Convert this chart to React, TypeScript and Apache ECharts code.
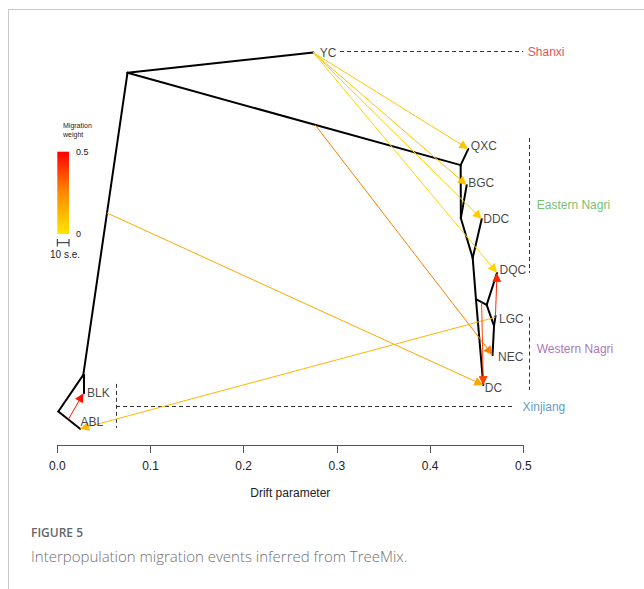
import React, { useEffect, useRef } from "react";
import * as echarts from "echarts";

// ---- Tree topology (TreeMix maximum-likelihood graph) ----
// Node positions: drift parameter on x, vertical layout position on y (0 = bottom, 1 = top)
const nodeIds = ["root", "ABL", "n1", "BLK", "n2", "YC", "nA", "QXC", "nB", "BGC", "nC", "DDC", "nD", "DC", "nE", "DQC", "nF", "LGC", "NEC"];
const nodeDrift = [0.0011, 0.0244, 0.0279, 0.0281, 0.0753, 0.2747, 0.4328, 0.441, 0.433, 0.4393, 0.4457, 0.4554, 0.4492, 0.4571, 0.4607, 0.4718, 0.4686, 0.4702, 0.467];
const nodeHeight = [0.0827, 0.04, 0.173, 0.128, 0.919, 0.969, 0.691, 0.731, 0.56, 0.642, 0.462, 0.558, 0.36, 0.148, 0.346, 0.425, 0.294, 0.319, 0.222];

const edgeParent = ["root", "root", "n1", "n1", "n2", "n2", "nA", "nA", "nB", "nB", "nC", "nC", "nD", "nD", "nE", "nE", "nF", "nF"];
const edgeChild = ["ABL", "n1", "BLK", "n2", "YC", "nA", "QXC", "nB", "BGC", "nC", "DDC", "nD", "DC", "nE", "DQC", "nF", "LGC", "NEC"];

// ---- Migration events: source = point on a branch (parent, child, fraction), target = population ----
const migrationSrcParent = ["n2", "n2", "n2", "n2", "n2", "n1", "nF", "root", "nD", "nF"];
const migrationSrcChild = ["YC", "YC", "YC", "YC", "nA", "n2", "LGC", "ABL", "nE", "LGC"];
const migrationSrcAt = [1, 1, 1, 1, 0.563, 0.536, 0.85, 0.46, 0.53, 0.95];
const migrationTarget = ["QXC", "BGC", "DDC", "DQC", "NEC", "DC", "ABL", "BLK", "DC", "DQC"];
const migrationWeight = [0.09, 0.1, 0.07, 0.05, 0.27, 0.17, 0.13, 0.47, 0.38, 0.43];

const leafNames = ["YC", "QXC", "BGC", "DDC", "DQC", "LGC", "NEC", "DC", "BLK", "ABL"];

// ---- Population groups ----
const groupNames = ["Shanxi", "Eastern Nagri", "Western Nagri", "Xinjiang"];
const groupColors = ["#E41A1C", "#4DAF4A", "#984EA3", "#377EB8"];

// Axis
const driftTicks = [0, 0.1, 0.2, 0.3, 0.4, 0.5];

// label nudges in pixels (style only)
const leafLabelNudge: Record<string, [number, number]> = {
  YC: [6, 0], QXC: [2, -3], BGC: [1, -2], DDC: [1, 0], DQC: [2, -3],
  LGC: [3, 3], NEC: [5, 2], DC: [1, 3], BLK: [3, 0], ABL: [0, -7],
};

// group brackets (dashed guides) and label anchors, in data coordinates
const groupGuides: [number, number][][] = [
  [[0.3034, 0.971], [0.5, 0.971]],
  [[0.5064, 0.758], [0.5064, 0.425]],
  [[0.5064, 0.317], [0.5064, 0.136]],
  [[0.063, 0.0946], [0.491, 0.0946]],
  [[0.063, 0.151], [0.063, 0.042]],
];
const groupAnchors: [number, number][] = [
  [0.5043, 0.971],
  [0.5139, 0.593],
  [0.5139, 0.237],
  [0.4987, 0.094],
];

const FONT = "'Liberation Sans', Arial, Helvetica, sans-serif";
const ARROW = 9;

function nodePos(id: string): [number, number] {
  const i = nodeIds.indexOf(id);
  return [nodeDrift[i], nodeHeight[i]];
}

function heat(w: number): string {
  const t = Math.max(0, Math.min(1, w / 0.5));
  return echarts.color.lerp(t, ["#FFE600", "#FF8A00", "#FF0000"]) as string;
}

export default function App() {
  const ref = useRef<HTMLDivElement>(null);

  useEffect(() => {
    if (!ref.current) return;
    const chart = echarts.init(ref.current, null, { renderer: "svg" });

    const treeData = edgeParent.map((p, i) => ({ coords: [nodePos(p), nodePos(edgeChild[i])] }));

    const leafData = leafNames.map((n) => ({
      name: n,
      value: nodePos(n),
      label: { offset: leafLabelNudge[n] },
    }));

    const groupData = groupNames.map((n, i) => ({
      name: n,
      value: groupAnchors[i],
      label: { color: groupColors[i] },
    }));

    const baseOption: any = {
      animation: false,
      grid: { left: 57.3, right: 120.7, top: 40, bottom: 144 },
      xAxis: {
        type: "value",
        min: driftTicks[0],
        max: driftTicks[driftTicks.length - 1],
        interval: 0.1,
        splitLine: { show: false },
        axisLine: { show: true, onZero: false, lineStyle: { color: "#555", width: 1 } },
        axisTick: { show: true, length: 8, lineStyle: { color: "#555" } },
        axisLabel: {
          margin: 15,
          fontSize: 12,
          color: "#222",
          fontFamily: FONT,
          formatter: (v: number) => v.toFixed(1),
        },
        name: "Drift parameter",
        nameLocation: "middle",
        nameGap: 42,
        nameTextStyle: { fontSize: 12, color: "#222", fontFamily: FONT },
      },
      yAxis: { type: "value", min: 0, max: 1, show: false },
      series: [
        {
          id: "guides",
          type: "lines",
          coordinateSystem: "cartesian2d",
          clip: false,
          silent: true,
          lineStyle: { color: "#333", width: 1, type: [4, 3], opacity: 1 },
          data: groupGuides.map((g) => ({ coords: g })),
        },
        {
          id: "tree",
          type: "lines",
          coordinateSystem: "cartesian2d",
          clip: false,
          silent: true,
          lineStyle: { color: "#000", width: 2, opacity: 1, cap: "round", join: "round" },
          data: treeData,
        },
        {
          id: "leaves",
          type: "scatter",
          clip: false,
          silent: true,
          symbolSize: 1,
          itemStyle: { color: "transparent" },
          label: {
            show: true,
            position: "right",
            distance: 0,
            formatter: "{b}",
            fontSize: 12,
            color: "#111",
            fontFamily: FONT,
          },
          data: leafData,
          z: 5,
        },
        {
          id: "groups",
          type: "scatter",
          clip: false,
          silent: true,
          symbolSize: 1,
          itemStyle: { color: "transparent" },
          label: {
            show: true,
            position: "right",
            distance: 0,
            formatter: "{b}",
            fontSize: 12,
            fontFamily: FONT,
          },
          data: groupData,
        },
      ],
      graphic: [
        // figure frame
        { type: "line", shape: { x1: 8, y1: 9.5, x2: 644, y2: 9.5 }, style: { stroke: "#c8c8c8", lineWidth: 1 }, silent: true },
        { type: "line", shape: { x1: 8.5, y1: 9, x2: 8.5, y2: 589 }, style: { stroke: "#c8c8c8", lineWidth: 1 }, silent: true },
        // migration weight legend
        { type: "text", left: 63, top: 121, style: { text: "Migration\nweight", fontSize: 7, lineHeight: 9, fill: "#222", fontFamily: FONT } },
        {
          type: "rect",
          shape: { x: 57.3, y: 151.7, width: 11.7, height: 82.3 },
          style: {
            fill: new echarts.graphic.LinearGradient(0, 0, 0, 1, [
              { offset: 0, color: "#FF0000" },
              { offset: 0.5, color: "#FF8A00" },
              { offset: 1, color: "#FFE600" },
            ]),
          },
          silent: true,
        },
        { type: "text", x: 76, y: 151.7, style: { text: "0.5", fontSize: 9, fill: "#222", fontFamily: FONT, verticalAlign: "middle" } },
        { type: "text", x: 76, y: 234, style: { text: "0", fontSize: 9, fill: "#222", fontFamily: FONT, verticalAlign: "middle" } },
        { type: "line", shape: { x1: 57.3, y1: 242.7, x2: 69, y2: 242.7 }, style: { stroke: "#222", lineWidth: 1 } },
        { type: "line", shape: { x1: 57.3, y1: 239, x2: 57.3, y2: 246.5 }, style: { stroke: "#222", lineWidth: 1 } },
        { type: "line", shape: { x1: 69, y1: 239, x2: 69, y2: 246.5 }, style: { stroke: "#222", lineWidth: 1 } },
        { type: "text", x: 50, y: 254, style: { text: "10 s.e.", fontSize: 10, fill: "#222", fontFamily: FONT, verticalAlign: "middle" } },
        // caption
        { type: "text", x: 31, y: 532, style: { text: "FIGURE 5", fontSize: 12, fontWeight: 600, fill: "#666", fontFamily: "'Open Sans', sans-serif", verticalAlign: "middle" } },
        { type: "text", x: 31, y: 556, style: { text: "Interpopulation migration events inferred from TreeMix.", fontSize: 15, fontWeight: 300, fill: "#707070", fontFamily: "'Open Sans', sans-serif", verticalAlign: "middle" } },
      ],
    };

    chart.setOption(baseOption);

    // migration arrows: the arrow tip sits exactly on the target population
    const migrationData = migrationTarget.map((t, i) => {
      const a = nodePos(migrationSrcParent[i]);
      const b = nodePos(migrationSrcChild[i]);
      const f = migrationSrcAt[i];
      const src: [number, number] = [a[0] + (b[0] - a[0]) * f, a[1] + (b[1] - a[1]) * f];
      const dst = nodePos(t);
      const p0 = chart.convertToPixel({ gridIndex: 0 }, src) as number[];
      const p1 = chart.convertToPixel({ gridIndex: 0 }, dst) as number[];
      const dx = p1[0] - p0[0];
      const dy = p1[1] - p0[1];
      const len = Math.hypot(dx, dy) || 1;
      const endPx = [p1[0] - (dx / len) * (ARROW / 2), p1[1] - (dy / len) * (ARROW / 2)];
      const end = chart.convertFromPixel({ gridIndex: 0 }, endPx) as number[];
      const c = heat(migrationWeight[i]);
      return { coords: [src, end], lineStyle: { color: c } };
    });

    chart.setOption({
      series: [
        {
          id: "migrations",
          type: "lines",
          coordinateSystem: "cartesian2d",
          clip: false,
          silent: true,
          symbol: ["none", "triangle"],
          symbolSize: ARROW,
          lineStyle: { width: 1, opacity: 1 },
          data: migrationData,
          z: 4,
        },
      ],
    });

    return () => chart.dispose();
  }, []);

  return (
    <div
      ref={ref}
      style={{ position: "absolute", left: 0, top: 0, width: 644, height: 589, background: "#fff" }}
    />
  );
}
